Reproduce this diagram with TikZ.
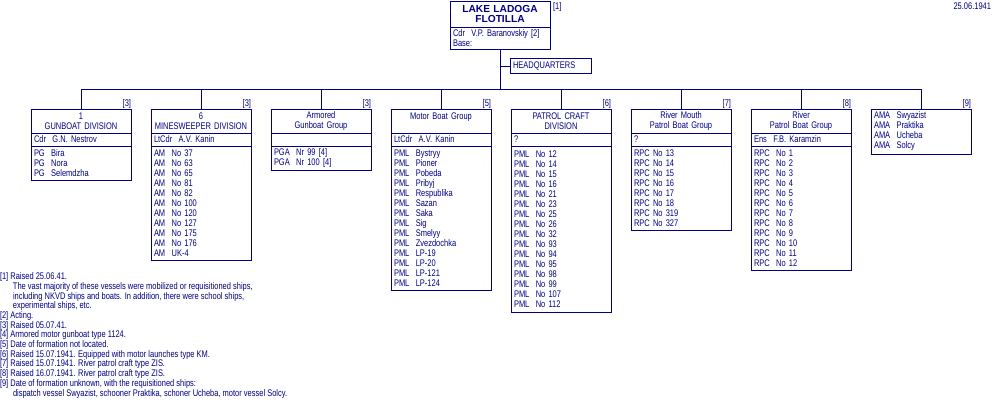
\documentclass[tikz,border=0pt]{standalone}
\usepackage{fontspec}
\setmainfont{Liberation Sans}[FakeStretch=0.78]
\newfontfamily\flotillafont{Liberation Sans}
\usepackage{tikz}
\usetikzlibrary{positioning}
\definecolor{navy}{RGB}{0,0,128}

\begin{document}
\begin{tikzpicture}[x=1pt, y=-1pt, line width=1pt, draw=navy,
		every node/.style={outer sep=0pt, text=navy, font=\fontsize{9.6}{10}\selectfont},
		box/.style={draw, anchor=north, text width=94pt, inner xsep=3pt, inner ysep=1pt},
		unit title/.style={box, align=center, minimum height=24pt},
		unit cmdr/.style={box, align=left, minimum height=13pt},
		unit list/.style={box, align=left},
		note/.style={anchor=base east, inner sep=0pt},
	]
	\useasboundingbox (0,0) rectangle (1000,400);

	\node [box, align=center, minimum height=26pt, font=\flotillafont\bfseries\fontsize{10.2}{10}\selectfont] (flt) at (500,1) {LAKE LADOGA\\FLOTILLA};
	\node [box, align=left, minimum height=22pt, below=0pt of flt] (flc) {Cdr~~V.P. Baranovskiy [2]\\Base:};
	\node [anchor=base west, inner sep=0pt] at ([shift={(3pt,-8pt)}]flt.north east) {[1]};
	\node [anchor=base east, inner sep=0pt] (date) at (991,9) {25.06.1941};
	\node [draw, anchor=west, text width=75pt, inner xsep=3pt, minimum height=14pt] (hq) at (510,66) {HEADQUARTERS};

	\node [unit title] (gbt) at (81,109) {1\\GUNBOAT DIVISION};
	\node [unit cmdr, below=0pt of gbt] (gbc) {Cdr~~G.N. Nestrov};
	\node [unit list, below=0pt of gbc, minimum height=34pt] (gbl) {PG~~Bira\\PG~~Nora\\PG~~Selemdzha};
	\node [note] at ([yshift=3pt]gbt.north east) {[3]};

	\node [unit title] (mst) at (201,109) {6\\MINESWEEPER DIVISION};
	\node [unit cmdr, below=0pt of mst] (msc) {LtCdr~~A.V. Kanin};
	\node [unit list, below=0pt of msc, minimum height=114pt] (msl) {AM~~No 37\\AM~~No 63\\AM~~No 65\\AM~~No 81\\AM~~No 82\\AM~~No 100\\AM~~No 120\\AM~~No 127\\AM~~No 175\\AM~~No 176\\AM~~UK-4};
	\node [note] at ([yshift=3pt]mst.north east) {[3]};

	\node [unit title] (agt) at (321,109) {Armored\\Gunboat Group};
	\node [unit cmdr, below=0pt of agt] (agc) {};
	\node [unit list, below=0pt of agc, minimum height=24pt] (agl) {PGA~~Nr 99 [4]\\PGA~~Nr 100 [4]};
	\node [note] at ([yshift=3pt]agt.north east) {[3]};

	\node [unit title] (mbt) at (441,109) {Motor Boat Group\\~};
	\node [unit cmdr, below=0pt of mbt] (mbc) {LtCdr~~A.V. Kanin};
	\node [unit list, below=0pt of mbc, minimum height=144pt] (mbl) {PML~~Bystryy\\PML~~Pioner\\PML~~Pobeda\\PML~~Pribyj\\PML~~Respublika\\PML~~Sazan\\PML~~Saka\\PML~~Sig\\PML~~Smelyy\\PML~~Zvezdochka\\PML~~LP-19\\PML~~LP-20\\PML~~LP-121\\PML~~LP-124};
	\node [note] at ([yshift=3pt]mbt.north east) {[5]};

	\node [unit title] (pct) at (561,109) {PATROL CRAFT\\DIVISION};
	\node [unit cmdr, below=0pt of pct] (pcc) {?};
	\node [unit list, below=0pt of pcc, minimum height=166pt] (pcl) {PML~~No 12\\PML~~No 14\\PML~~No 15\\PML~~No 16\\PML~~No 21\\PML~~No 23\\PML~~No 25\\PML~~No 26\\PML~~No 32\\PML~~No 93\\PML~~No 94\\PML~~No 95\\PML~~No 98\\PML~~No 99\\PML~~No 107\\PML~~No 112};
	\node [note] at ([yshift=3pt]pct.north east) {[6]};

	\node [unit title] (rmt) at (681,109) {River Mouth\\Patrol Boat Group};
	\node [unit cmdr, below=0pt of rmt] (rmc) {?};
	\node [unit list, below=0pt of rmc, minimum height=84pt] (rml) {RPC No 13\\RPC No 14\\RPC No 15\\RPC No 16\\RPC No 17\\RPC No 18\\RPC No 319\\RPC No 327};
	\node [note] at ([yshift=3pt]rmt.north east) {[7]};

	\node [unit title] (rpt) at (801,109) {River\\Patrol Boat Group};
	\node [unit cmdr, below=0pt of rpt] (rpc) {Ens~~F.B. Karamzin};
	\node [unit list, below=0pt of rpc, minimum height=124pt] (rpl) {RPC~~No 1\\RPC~~No 2\\RPC~~No 3\\RPC~~No 4\\RPC~~No 5\\RPC~~No 6\\RPC~~No 7\\RPC~~No 8\\RPC~~No 9\\RPC~~No 10\\RPC~~No 11\\RPC~~No 12};
	\node [note] at ([yshift=3pt]rpt.north east) {[8]};

	\node [unit list, minimum height=45pt] (ama) at (921,109) {AMA~~Swyazist\\AMA~~Praktika\\AMA~~Ucheba\\AMA~~Solcy};
	\node [note] at ([yshift=3pt]ama.north east) {[9]};

	\coordinate (bus) at ([yshift=-40pt]flc.south);
	\draw (flc.south) -- (bus);
	\draw (hq.west) -- (hq.west -| flc.south);
	\foreach \u in {gbt,mst,agt,mbt,pct,rmt,rpt,ama}
		\draw (bus) -| (\u.north);

	\node [anchor=north west, inner sep=0pt, align=left, font=\fontsize{9.6}{9.67}\selectfont] (notes) at (0,273) {[1] Raised 25.06.41.\\
		\hspace*{13pt}The vast majority of these vessels were mobilized or requisitioned ships,\\
		\hspace*{13pt}including NKVD ships and boats. In addition, there were school ships,\\
		\hspace*{13pt}experimental ships, etc.\\
		{}[2] Acting.\\
		{}[3] Raised 05.07.41.\\
		{}[4] Armored motor gunboat type 1124.\\
		{}[5] Date of formation not located.\\
		{}[6] Raised 15.07.1941. Equipped with motor launches type KM.\\
		{}[7] Raised 15.07.1941. River patrol craft type ZIS.\\
		{}[8] Raised 16.07.1941. River patrol craft type ZIS.\\
		{}[9] Date of formation unknown, with the requisitioned ships:\\
		\hspace*{13pt}dispatch vessel Swyazist, schooner Praktika, schoner Ucheba, motor vessel Solcy.};
\end{tikzpicture}
\end{document}
